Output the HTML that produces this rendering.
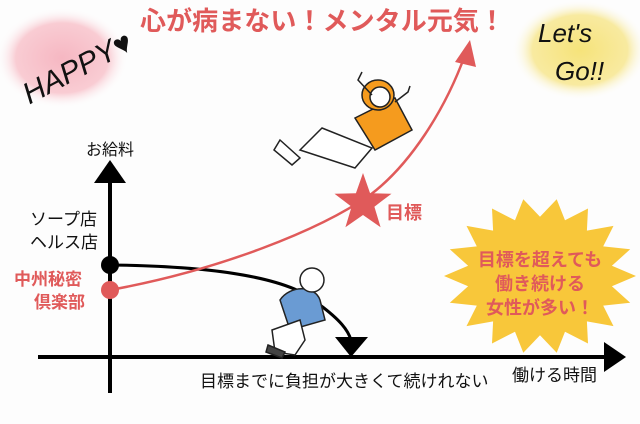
<!DOCTYPE html>
<html><head><meta charset="utf-8"><style>
html,body{margin:0;padding:0;width:640px;height:424px;overflow:hidden;background:#fdfdfd;}
svg{display:block}
text{font-family:"Liberation Sans","Noto Sans CJK JP",sans-serif;}
</style></head><body>
<svg width="640" height="424" viewBox="0 0 640 424" xmlns="http://www.w3.org/2000/svg">
<defs>
<radialGradient id="pk" cx="50%" cy="50%" r="50%"><stop offset="0" stop-color="#f6b7c2"/><stop offset="0.7" stop-color="#f9ccd3"/><stop offset="1" stop-color="#fdfdfd" stop-opacity="0"/></radialGradient>
<radialGradient id="yl" cx="50%" cy="50%" r="50%"><stop offset="0" stop-color="#f6e37a"/><stop offset="0.7" stop-color="#f8eaa0"/><stop offset="1" stop-color="#fdfdfd" stop-opacity="0"/></radialGradient>
</defs>
<ellipse cx="62" cy="58" rx="66" ry="50" fill="url(#pk)"/>
<ellipse cx="580" cy="50" rx="68" ry="50" fill="url(#yl)"/>
<text x="12" y="85" font-size="30" fill="#111" font-style="italic" transform="rotate(-28 60 60)">HAPPY♥</text>
<text x="538" y="42" font-size="26" fill="#111" font-style="italic">Let's</text>
<text x="555" y="80" font-size="26" fill="#111" font-style="italic">Go!!</text>
<text x="140" y="30" font-size="26" font-weight="bold" fill="#e05a5a" textLength="365">心が病まない！メンタル元気！</text>

<line x1="110" y1="175" x2="110" y2="393" stroke="#000" stroke-width="4"/>
<polygon points="94,183 110,160 126,183" fill="#000"/>
<line x1="38" y1="357" x2="608" y2="357" stroke="#000" stroke-width="4"/>
<polygon points="604,342 626,357 604,372" fill="#000"/>
<text x="86" y="155" font-size="16" fill="#111">お給料</text>
<text x="30" y="225" font-size="17" fill="#111">ソープ店</text>
<text x="30" y="248" font-size="17" fill="#111">ヘルス店</text>
<text x="14" y="285" font-size="17" font-weight="bold" fill="#e05a5a">中州秘密</text>
<text x="34" y="308" font-size="17" font-weight="bold" fill="#e05a5a">倶楽部</text>

<path d="M110,265 C200,266 290,275 320,305 C340,320 348,330 351,340" stroke="#000" stroke-width="3" fill="none"/>
<polygon points="335,337 368,337 351,357" fill="#000"/>
<circle cx="110" cy="265" r="9" fill="#000"/>
<path d="M110,290 C220,270 320,230 370,195 C410,165 445,110 465,55" stroke="#e05a5a" stroke-width="2.5" fill="none"/>
<polygon points="455,62 470,40 476,67" fill="#e05a5a"/>
<circle cx="110" cy="290" r="9" fill="#e05a5a"/>
<polygon id="star" fill="#e05a5a"/>
<text x="386" y="219" font-size="18" font-weight="bold" fill="#e05a5a">目標</text>

<polygon id="burst" fill="#f8c73a"/>
<text x="540" y="266" font-size="18" font-weight="bold" fill="#e05a5a" text-anchor="middle">目標を超えても</text>
<text x="540" y="290" font-size="18" font-weight="bold" fill="#e05a5a" text-anchor="middle">働き続ける</text>
<text x="540" y="314" font-size="18" font-weight="bold" fill="#e05a5a" text-anchor="middle">女性が多い！</text>

<text x="200" y="387" font-size="17" fill="#111">目標までに負担が大きくて続けれない</text>
<text x="512" y="381" font-size="17" fill="#111">働ける時間</text>

<g stroke="#222" stroke-width="1.5">
<path d="M355,118 L395,98 L412,130 L375,150 Z" fill="#f59b1e"/>
<path d="M322,128 L372,148 L355,168 L300,150 Z" fill="#fff"/>
<path d="M280,140 L300,158 L292,165 L274,150 Z" fill="#fff"/>
<ellipse cx="378" cy="95" rx="16" ry="15" fill="#f59b1e"/>
<circle cx="380" cy="97" r="10" fill="#fff"/>
<path d="M372,95 L358,80 L362,72" fill="none"/>
<path d="M395,102 L408,92 L410,86" fill="none"/>
</g>
<g stroke="#222" stroke-width="1.5">
<path d="M280,300 C290,285 315,285 320,300 L325,320 L290,330 Z" fill="#6a9bd3"/>
<circle cx="312" cy="280" r="12" fill="#fff"/>
<path d="M272,330 L300,320 L305,340 L295,355 L275,352 Z" fill="#fff"/>
<path d="M268,345 L285,352 L282,358 L266,352 Z" fill="#444"/>
</g>
</svg>
<script>
function poly(id,cx,cy,n,ro,ri,rx2,ry2,rot){var p=[];for(var i=0;i<2*n;i++){var a=rot+Math.PI*i/n;var r=i%2?ri:ro;var sx=rx2||1,sy=ry2||1;p.push((cx+r*sx*Math.cos(a)).toFixed(1)+","+(cy+r*sy*Math.sin(a)).toFixed(1));}document.getElementById(id).setAttribute("points",p.join(" "));}
poly("star",363,203,5,30,12,1,1,-Math.PI/2);
poly("burst",540,276,18,1,0.76,96,78,0);
</script>
</body></html>
